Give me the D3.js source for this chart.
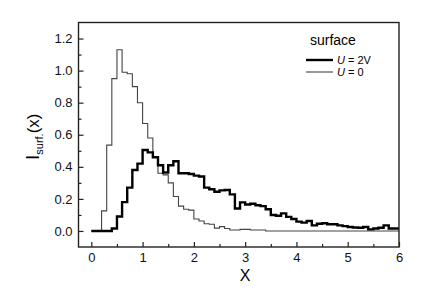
<!DOCTYPE html>
<html>
<head>
<meta charset="utf-8">
<script src="https://cdn.jsdelivr.net/npm/d3@7"></script>
<style>
  body { margin: 0; background: #fff; }
  svg { font-family: "Liberation Sans", Arial, Helvetica, sans-serif; }
  .axis text { font-size: 13px; fill: #111; }
  .axis line { stroke: #222; stroke-width: 1.2; }
  .axis path { display: none; }
</style>
</head>
<body>
<div id="chart"></div>
<script>
// histogram bins, 0.1 wide, left edges 0.0 ... 5.9
const binStart = 0;
const binWidth = 0.1;

// U = 0 (thin)
const surfU0 = [
  0, 0, 0.125, 0.535, 0.95, 1.13, 0.99, 0.98, 0.90, 0.80,
  0.67, 0.58, 0.46, 0.36, 0.35, 0.30, 0.215, 0.155, 0.135, 0.13,
  0.075, 0.062, 0.045, 0.042, 0.018, 0.027, 0.015, 0.006, 0.006, 0.01,
  0.01, 0.006, 0.006, 0.006, 0, 0, 0, 0, 0, 0,
  0, 0, 0, 0, 0, 0, 0, 0, 0, 0,
  0, 0, 0, 0, 0, 0, 0, 0, 0, 0
];

// U = 2V (thick)
const surfU2 = [
  0, 0, 0, 0, 0.015, 0.09, 0.18, 0.27, 0.38, 0.42,
  0.505, 0.49, 0.46, 0.41, 0.365, 0.41, 0.435, 0.36, 0.36, 0.355,
  0.345, 0.34, 0.27, 0.26, 0.245, 0.253, 0.255, 0.228, 0.14, 0.178,
  0.165, 0.17, 0.16, 0.155, 0.135, 0.10, 0.095, 0.11, 0.088, 0.075,
  0.058, 0.052, 0.062, 0.035, 0.045, 0.048, 0.042, 0.042, 0.035, 0.03,
  0.025, 0.022, 0.02, 0.025, 0.01, 0.015, 0.02, 0.035, 0.015, 0.015
];

const xTicks = [0, 1, 2, 3, 4, 5, 6];
const yTicks = [0, 0.2, 0.4, 0.6, 0.8, 1.0, 1.2];

const W = 427, H = 307;
const margin = { top: 22.5, right: 28, bottom: 60, left: 78.5 };
const width = W - margin.left - margin.right;
const height = H - margin.top - margin.bottom;

const svg = d3.select('#chart').append('svg')
  .attr('width', W)
  .attr('height', H);

const g = svg.append('g')
  .attr('transform', `translate(${margin.left}, ${margin.top})`);

const x = d3.scaleLinear().domain([-0.25, 6]).range([0, width]);
const y = d3.scaleLinear().domain([-0.1, 1.3]).range([height, 0]);

// step line from bin values
function steps(vals) {
  const pts = vals.map((v, i) => [binStart + i * binWidth, v]);
  pts.push([binStart + vals.length * binWidth, vals[vals.length - 1]]);
  return pts;
}
const line = d3.line()
  .x(d => x(d[0]))
  .y(d => y(d[1]))
  .curve(d3.curveStepAfter);

g.append('path')
  .datum(steps(surfU0))
  .attr('fill', 'none')
  .attr('stroke', '#444')
  .attr('stroke-width', 1.1)
  .attr('d', line);

g.append('path')
  .datum(steps(surfU2))
  .attr('fill', 'none')
  .attr('stroke', '#000')
  .attr('stroke-width', 2.4)
  .attr('d', line);

// axes (ticks inward)
g.append('g')
  .attr('class', 'axis')
  .attr('transform', `translate(0, ${height})`)
  .call(d3.axisBottom(x).tickValues(xTicks).tickSize(-5).tickPadding(6).tickFormat(d3.format('d')));
g.append('g')
  .attr('class', 'axis')
  .attr('transform', `translate(0, ${height})`)
  .call(d3.axisBottom(x).tickValues([0.5, 1.5, 2.5, 3.5, 4.5, 5.5]).tickSize(-3).tickFormat(''));

g.append('g')
  .attr('class', 'axis')
  .call(d3.axisLeft(y).tickValues(yTicks).tickSize(-5).tickPadding(6).tickFormat(d3.format('.1f')));
g.append('g')
  .attr('class', 'axis')
  .call(d3.axisLeft(y).tickValues([0.1, 0.3, 0.5, 0.7, 0.9, 1.1]).tickSize(-3).tickFormat(''));

// frame
g.append('rect')
  .attr('width', width)
  .attr('height', height)
  .attr('fill', 'none')
  .attr('stroke', '#222')
  .attr('stroke-width', 1.4);

// axis titles
svg.append('text')
  .attr('x', margin.left + x(3))
  .attr('y', 281)
  .attr('text-anchor', 'middle')
  .attr('font-size', 16)
  .text('X');

const yt = svg.append('text')
  .attr('transform', `translate(39, ${margin.top + height / 2 + 2}) rotate(-90)`)
  .attr('text-anchor', 'middle');
yt.append('tspan').attr('font-size', 19).text('I');
yt.append('tspan').attr('font-size', 11).attr('dy', 4).text('surf.');
yt.append('tspan').attr('font-size', 17).attr('dy', -4).text('(x)');

// legend
const lg = svg.append('g').attr('transform', 'translate(306, 0)');
lg.append('text')
  .attr('x', 4)
  .attr('y', 45)
  .attr('font-size', 14)
  .text('surface');

const legendItems = [
  { label: '2V', stroke: '#000', w: 2.4, yy: 60 },
  { label: '0', stroke: '#444', w: 1.1, yy: 72 }
];
legendItems.forEach(d => {
  lg.append('line')
    .attr('x1', 0).attr('x2', 27)
    .attr('y1', d.yy).attr('y2', d.yy)
    .attr('stroke', d.stroke)
    .attr('stroke-width', d.w);
  const t = lg.append('text')
    .attr('x', 31)
    .attr('y', d.yy + 4)
    .attr('font-size', 11);
  t.append('tspan').attr('font-style', 'italic').text('U');
  t.append('tspan').text(' = ' + d.label);
});
</script>
</body>
</html>
